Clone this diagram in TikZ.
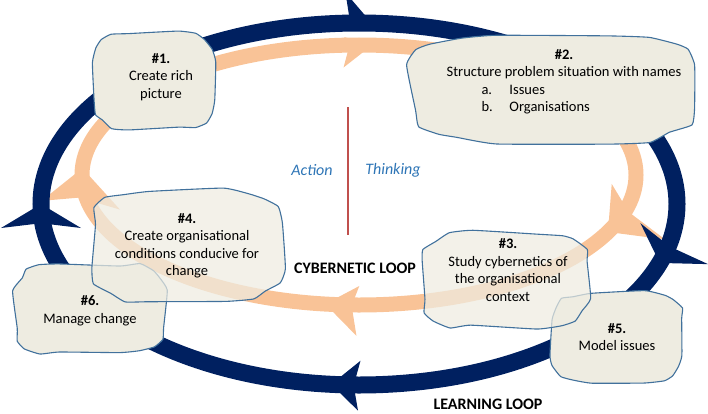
\documentclass[tikz,border=0pt]{standalone}
\usepackage{fontspec}
\setmainfont{Carlito}
\definecolor{loopnavy}{HTML}{002060}
\definecolor{looppeach}{HTML}{F9C397}
\definecolor{cloudfill}{HTML}{EEECE1}
\definecolor{cloudline}{HTML}{41719C}
\definecolor{modeblue}{HTML}{2E75B6}
\definecolor{dividerred}{HTML}{C0504D}
% arrow head sitting on an elliptic loop: colour, cx, cy, a, b, angle, outer wing, inner wing, length
\newcommand{\loophead}[9]{%
  \fill[#1, shift={({#2+#4*cos(#6)},{#3+#5*sin(#6)})},
    rotate={atan2(-(#5)*cos(#6),(#4)*sin(#6))}]
    (0,0) -- (-#9,#7) -- ({-0.8*#9},0) -- (-#9,-#8) -- cycle;}
% rough cloud outline: cx, cy, half width, half height, fill opacity
\newcommand{\cloudblob}[5]{%
  \filldraw[draw=cloudline, line width=1.1bp, fill=cloudfill, fill opacity=#5]
    plot[smooth cycle, tension=0.25, variable=\t, domain=9:351, samples=20]
    ({#1+(#3)*(1+0.045*rand)*sign(cos(\t))*abs(cos(\t))^0.5},
     {#2+(#4)*(1+0.06*rand)*sign(sin(\t))*abs(sin(\t))^0.5});}

\begin{document}
\begin{tikzpicture}[x=1bp,y=1bp,
    steptext/.style={align=center, inner sep=0pt,
      font=\fontsize{14.5bp}{17.5bp}\selectfont},
    looplabel/.style={font=\fontsize{16bp}{18bp}\selectfont\bfseries},
    modelabel/.style={font=\fontsize{16bp}{18bp}\selectfont\itshape, text=modeblue}]
  \useasboundingbox (0,0) rectangle (708,413);
  \pgfmathsetseed{11}
  % cybernetic loop (inner)
  \draw[looppeach, line width=15bp] (359,238) ellipse [x radius=277, y radius=130];
  \loophead{looppeach}{359}{238}{277}{130}{87.3}{7.5}{23}{28}
  \loophead{looppeach}{359}{238}{277}{130}{-26}{45}{32}{36}
  \loophead{looppeach}{359}{238}{277}{130}{263}{30}{20}{33}
  \loophead{looppeach}{359}{238}{277}{130}{177}{37}{42}{37}
  % learning loop (outer)
  \draw[loopnavy, line width=17bp] (359,209) ellipse [x radius=318, y radius=181];
  \loophead{loopnavy}{359}{209}{318}{181}{87.7}{30}{8.5}{27}
  \loophead{loopnavy}{359}{209}{318}{181}{-19}{42}{37}{24}
  \loophead{loopnavy}{359}{209}{318}{181}{265}{25}{25}{28}
  \loophead{loopnavy}{359}{209}{318}{181}{180}{40}{40}{24}

  \draw[dividerred, line width=2bp] (348,306) -- (348,178);
  \node[modelabel] (action) at (312,243) {Action};
  \node[modelabel] (thinking) at (393,243) {Thinking};
  \node[looplabel] (cyber) at (355,145) {CYBERNETIC LOOP};
  \node[looplabel] (learning) at (488,9) {LEARNING LOOP};

  \cloudblob{154}{332}{61}{48.5}{1}
  \node[steptext] (step1) at (161,336) {\textbf{\#1.}\\Create rich\\picture};
  \cloudblob{553}{325}{142}{55}{1}
  \node[steptext] (step2) at (564,331)
    {\textbf{\#2.}\\Structure problem situation with names\\
     \makebox[235bp][l]{\hspace{35bp}\makebox[28bp][l]{a.}Issues}\\
     \makebox[235bp][l]{\hspace{35bp}\makebox[28bp][l]{b.}Organisations}};
  \cloudblob{90}{104}{75}{46}{1}
  \node[steptext] (step6) at (90,102) {\textbf{\#6.}\\Manage change};
  \cloudblob{618}{76}{67}{45}{1}
  \node[steptext] (step5) at (617,76) {\textbf{\#5.}\\Model issues};
  \cloudblob{187}{167}{95}{56}{0.72}
  \node[steptext] (step4) at (187,167)
    {\textbf{\#4.}\\Create organisational\\conditions conducive for\\change};
  \cloudblob{505}{133}{84}{48}{0.72}
  \node[steptext] (step3) at (508,143)
    {\textbf{\#3.}\\Study cybernetics of\\the organisational\\context};
\end{tikzpicture}
\end{document}
